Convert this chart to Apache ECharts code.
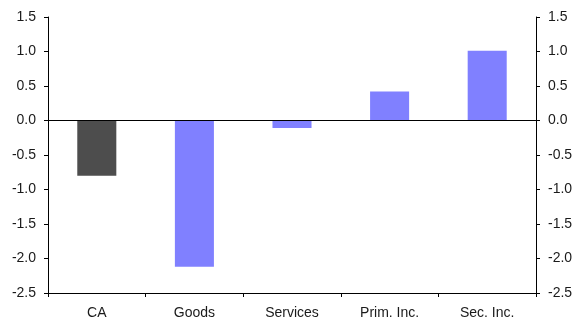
<!DOCTYPE html>
<html><head><meta charset="utf-8">
<script src="https://cdn.jsdelivr.net/npm/echarts@6/dist/echarts.min.js"></script>
<style>html,body{margin:0;padding:0;background:#fff}#c{width:581px;height:327px}</style>
</head><body><div id="c"></div>
<script>
const categories = ['CA', 'Goods', 'Services', 'Prim. Inc.', 'Sec. Inc.'];
const values = [-0.8, -2.12, -0.11, 0.42, 1.01];
const barColors = ['#4d4d4d', '#8080ff', '#8080ff', '#8080ff', '#8080ff'];
const yMin = -2.5, yMax = 1.5, yStep = 0.5;

const chart = echarts.init(document.getElementById('c'));
const font = 'Liberation Sans, Arial, sans-serif';
const yAxisBase = {
  type: 'value', min: yMin, max: yMax, interval: yStep,
  axisLine: {show: true, lineStyle: {color: '#000', width: 1}},
  axisTick: {show: true, length: 4, lineStyle: {color: '#000'}},
  splitLine: {show: false},
  axisLabel: {color: '#1a1a1a', fontSize: 14, fontFamily: font, margin: 12,
    formatter: v => v.toFixed(1)}
};
chart.setOption({
  animation: false,
  grid: {left: 48, right: 45, top: 17, bottom: 34},
  xAxis: {
    type: 'category', data: categories,
    axisLine: {onZero: false, lineStyle: {color: '#000', width: 1}},
    axisTick: {show: true, length: 4, lineStyle: {color: '#000'}},
    axisLabel: {color: '#1a1a1a', fontSize: 14, fontFamily: font, margin: 13}
  },
  yAxis: [
    Object.assign({}, yAxisBase, {position: 'left'}),
    Object.assign({}, yAxisBase, {position: 'right'})
  ],
  series: [{
    type: 'bar', barWidth: '40%',
    data: values.map((v, i) => ({value: v, itemStyle: {color: barColors[i]}})),
    markLine: {
      silent: true, symbol: 'none', label: {show: false},
      lineStyle: {color: '#000', width: 1, type: 'solid'},
      data: [{yAxis: 0}]
    }
  }]
});
</script></body></html>
